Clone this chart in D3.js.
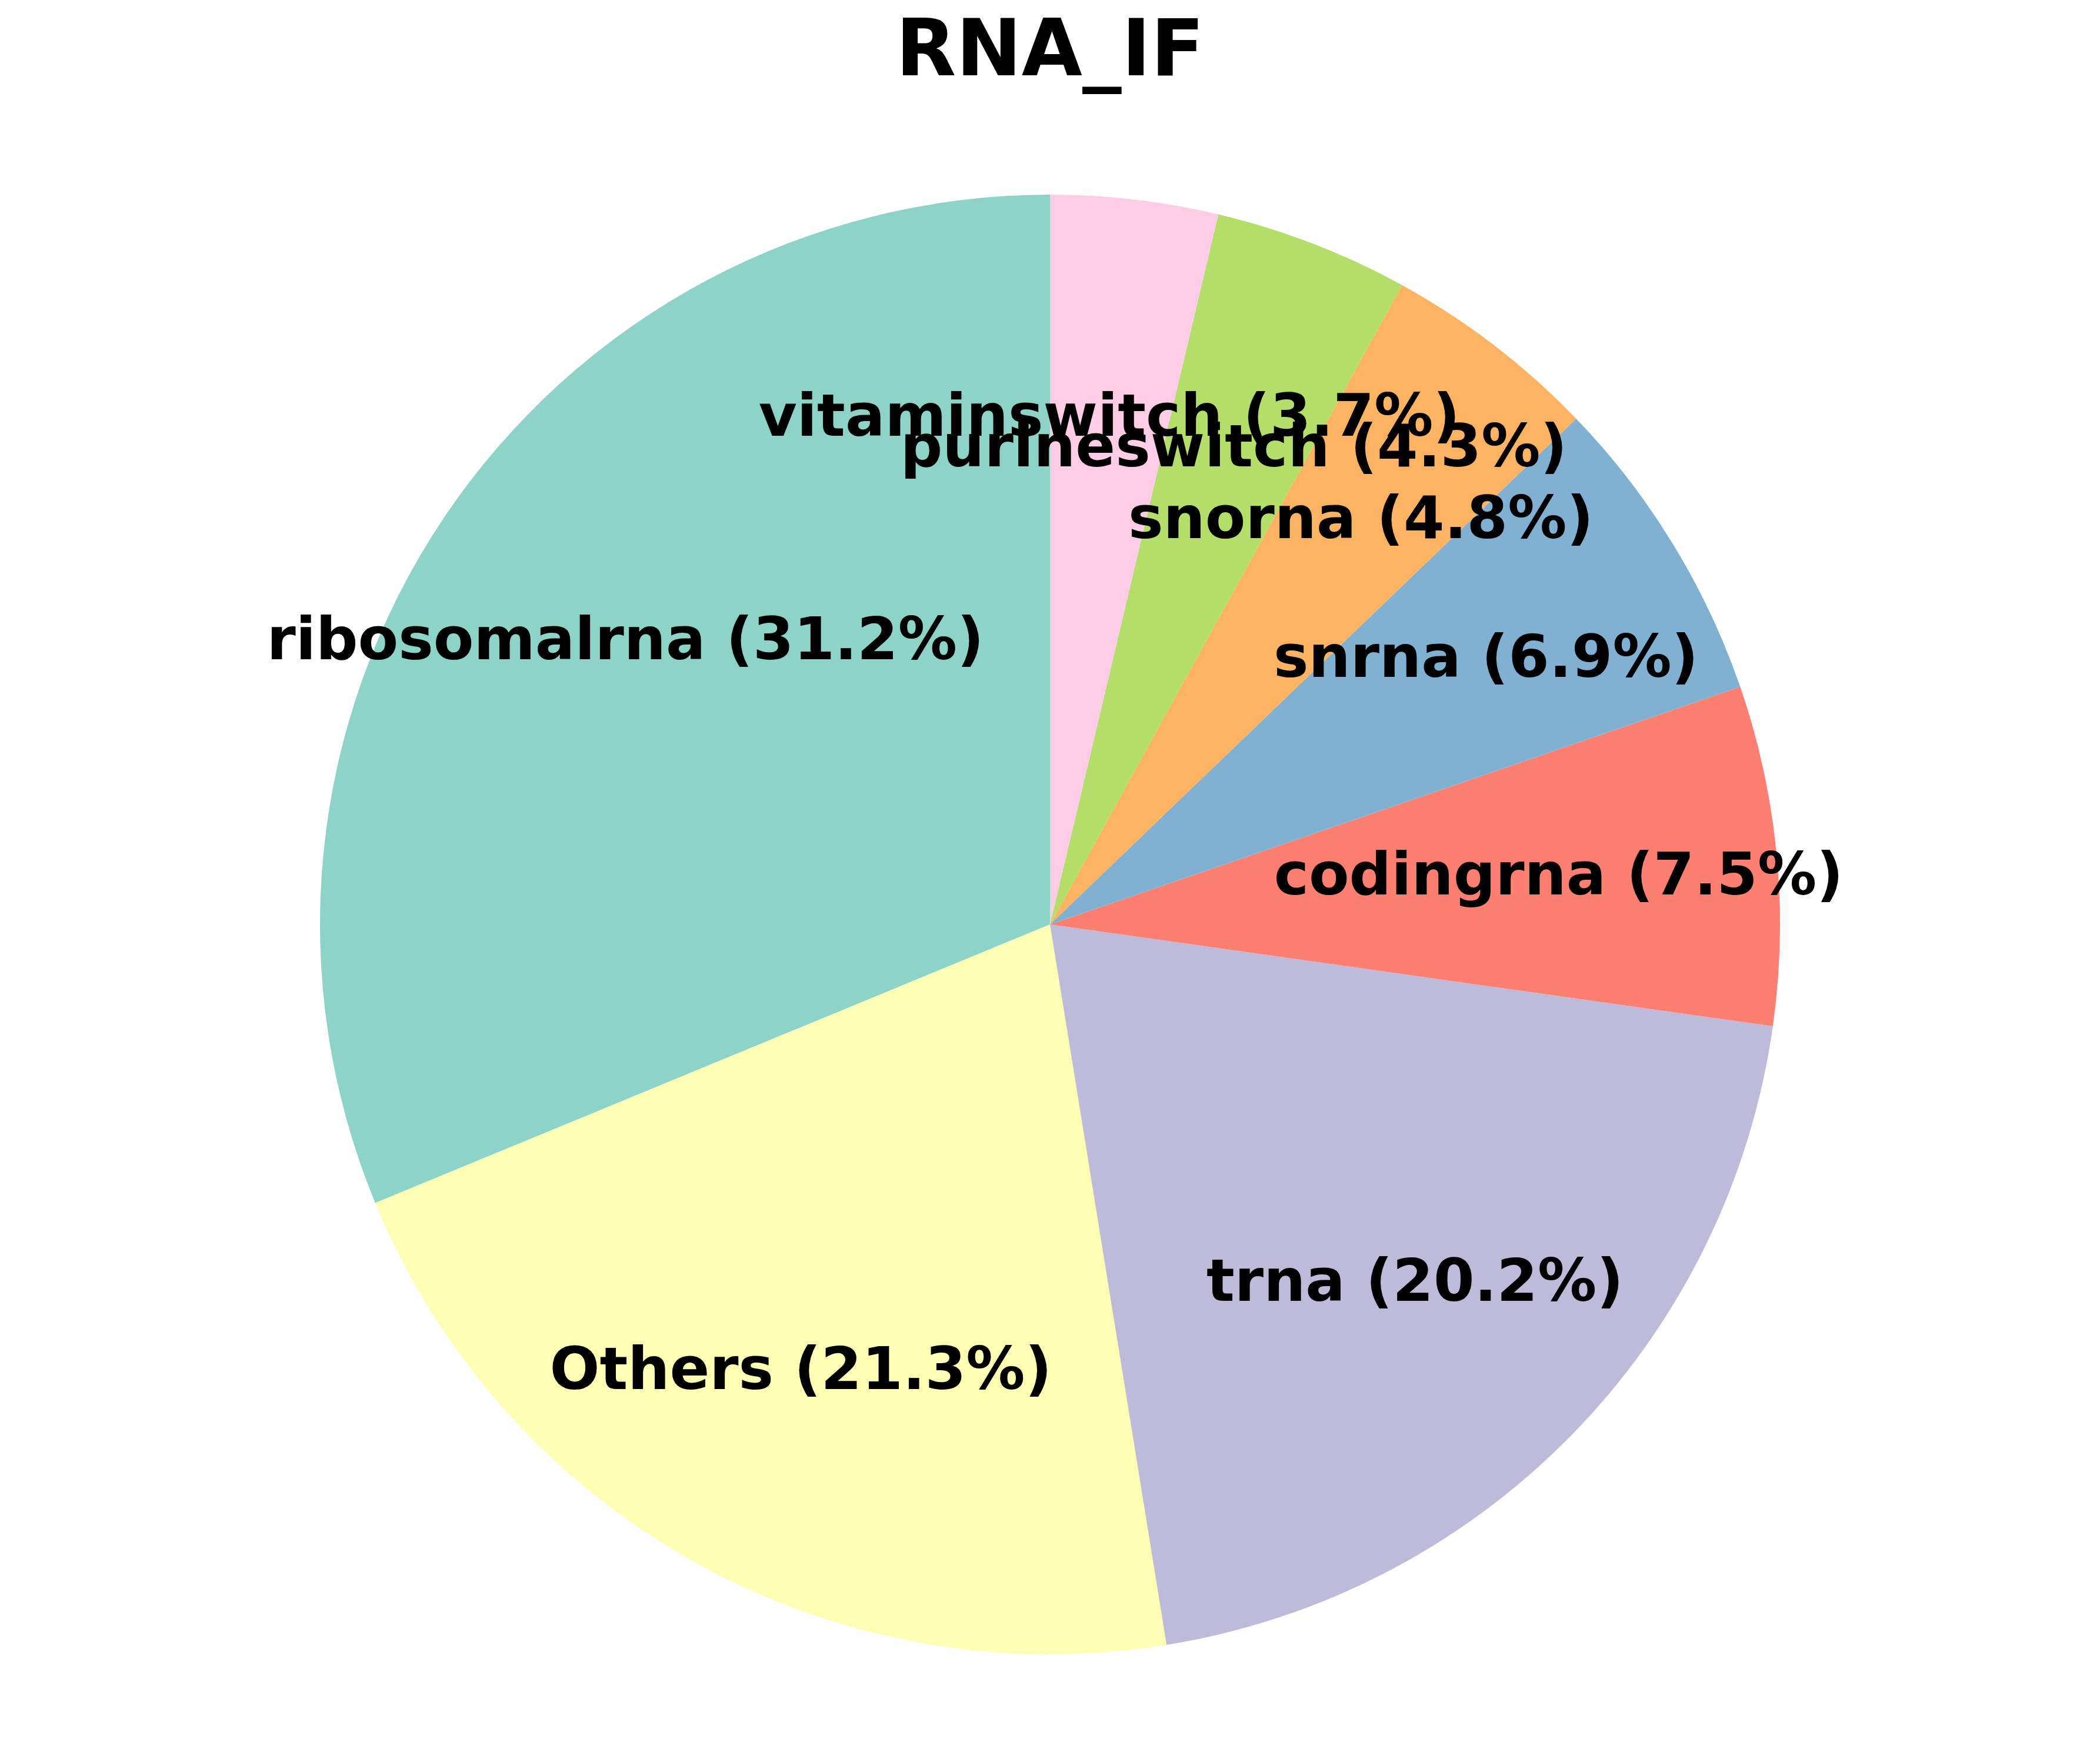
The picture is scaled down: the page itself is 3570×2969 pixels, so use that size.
<!DOCTYPE html>
<html>
<head>
<meta charset="utf-8">
<script src="https://cdn.jsdelivr.net/npm/d3@7"></script>
<style>
  html, body { margin: 0; padding: 0; background: #ffffff; }
  svg { display: block; }
  text { font-family: "DejaVu Sans", sans-serif; font-weight: bold; }
</style>
</head>
<body>
<svg id="chart" width="3570" height="2969"></svg>
<script>
const categories = ["ribosomalrna", "Others", "trna", "codingrna", "snrna", "snorna", "purineswitch", "vitaminswitch"];
const values = [31.2, 21.3, 20.2, 7.5, 6.9, 4.8, 4.3, 3.7];
const colors = ["#8dd3c7", "#ffffb3", "#bebada", "#fb8072", "#80b1d3", "#fdb462", "#b3de69", "#fccde5"];
const title = "RNA_IF";

const W = 3570, H = 2969;
const cx = 1785, cy = 1572, R = 1241;
const labelDist = 0.7;

const svg = d3.select("#chart");
svg.append("rect").attr("width", W).attr("height", H).attr("fill", "#ffffff");

const data = categories.map((c, i) => ({ name: c, value: values[i], color: colors[i] }));
const total = d3.sum(values);

// matplotlib: start at 90deg, counterclockwise -> d3 angles going negative
const pie = d3.pie().value(d => d.value).sort(null).startAngle(0).endAngle(-2 * Math.PI);
const arcs = pie(data);
const arc = d3.arc().innerRadius(0).outerRadius(R);

const g = svg.append("g").attr("transform", `translate(${cx},${cy})`);

g.selectAll("path.slice")
  .data(arcs)
  .enter().append("path")
  .attr("class", "slice")
  .attr("d", arc)
  .attr("fill", d => d.data.color);

const labelArc = d3.arc().innerRadius(R * labelDist).outerRadius(R * labelDist);

g.selectAll("text.lbl")
  .data(arcs)
  .enter().append("text")
  .attr("class", "lbl")
  .attr("transform", d => {
    const [x, y] = labelArc.centroid(d);
    return `translate(${x},${y})`;
  })
  .attr("text-anchor", "middle")
  .attr("dy", "0.32em")
  .attr("font-size", 100)
  .attr("fill", "#000000")
  .text(d => `${d.data.name} (${d.data.value.toFixed(1)}%)`);

svg.append("text")
  .attr("x", cx)
  .attr("y", 128)
  .attr("text-anchor", "middle")
  .attr("font-size", 133.3)
  .attr("fill", "#000000")
  .text(title);
</script>
</body>
</html>
